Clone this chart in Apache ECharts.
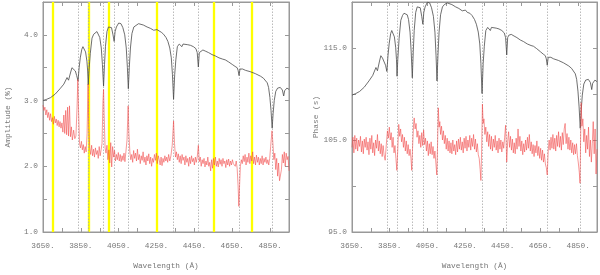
<!DOCTYPE html>
<html>
<head>
<meta charset="utf-8">
<script src="https://cdn.jsdelivr.net/npm/echarts@6/dist/echarts.min.js"></script>
<style>html,body{margin:0;padding:0;background:#fff}#c{width:600px;height:275px}</style>
</head>
<body>
<div id="c"></div>
<script>
// ---- data ----
const specWave = [3650,3670,3690,3715,3740,3760,3777,3785,3795,3803,3812,3821,3828,3835,3841,3847,3855,3861,3867,3875,3882,3886,3889,3893,3900,3909,3918,3926,3935,3943,3950,3958,3964,3970,3975,3980,3988,3996,4003,4012,4020,4026,4031,4038,4050,4062,4072,4082,4090,4096,4101,4106,4112,4120,4130,4140,4155,4180,4200,4217,4235,4243,4252,4262,4275,4287,4300,4310,4320,4328,4334,4340,4346,4352,4360,4370,4378,4384,4390,4400,4415,4430,4445,4458,4465,4471,4476,4482,4495,4510,4525,4543,4560,4580,4600,4613,4630,4650,4665,4676,4681,4686,4691,4698,4705,4710,4720,4745,4772,4800,4815,4824,4835,4842,4849,4855,4861,4866,4872,4880,4890,4904,4915,4922,4927,4939,4950];
const specAmp = [3.00,3.02,3.045,3.10,3.18,3.25,3.35,3.31,3.42,3.50,3.47,3.45,3.38,3.30,3.50,3.65,3.78,3.82,3.80,3.74,3.60,3.45,3.24,3.45,3.72,3.95,4.01,4.04,4.05,4.02,3.96,3.80,3.55,3.22,3.55,3.82,4.05,4.12,4.14,4.11,4.00,3.90,4.05,4.12,4.18,4.17,4.11,4.00,3.80,3.50,3.18,3.50,3.80,4.02,4.12,4.15,4.17,4.15,4.12,4.10,4.07,4.06,4.08,4.05,4.04,4.01,3.96,3.90,3.80,3.65,3.40,3.02,3.40,3.62,3.82,3.86,3.87,3.82,3.86,3.87,3.85,3.84,3.82,3.79,3.73,3.51,3.73,3.76,3.77,3.75,3.73,3.70,3.68,3.65,3.63,3.62,3.59,3.55,3.52,3.50,3.46,3.38,3.48,3.50,3.48,3.49,3.46,3.44,3.41,3.37,3.34,3.32,3.27,3.20,3.05,2.85,2.58,2.80,3.00,3.14,3.19,3.20,3.16,3.07,3.15,3.19,3.17];
const specPhase = [109.88,110.05,110.27,110.74,111.42,112.02,112.88,112.53,113.48,114.16,113.90,113.73,113.13,112.45,114.16,115.44,116.56,116.90,116.73,116.21,115.02,113.73,111.93,113.73,116.04,118.01,118.53,118.78,118.87,118.61,118.10,116.73,114.59,111.76,114.59,116.90,118.87,119.47,119.64,119.38,118.44,117.58,118.87,119.47,119.98,119.90,119.38,118.44,116.73,114.16,111.42,114.16,116.73,118.61,119.47,119.72,119.90,119.72,119.47,119.30,119.04,118.95,119.12,118.87,118.78,118.53,118.10,117.58,116.73,115.44,113.30,110.05,113.30,115.19,116.90,117.24,117.33,116.90,117.24,117.33,117.16,117.07,116.90,116.64,116.13,114.25,116.13,116.39,116.48,116.30,116.13,115.87,115.70,115.44,115.27,115.19,114.93,114.59,114.33,114.16,113.82,113.13,113.99,114.16,113.99,114.07,113.82,113.65,113.39,113.05,112.79,112.62,112.19,111.59,110.31,108.60,106.28,108.17,109.88,111.08,111.51,111.59,111.25,110.48,111.16,111.51,111.34];

const amplitude = [[3650,2.93],[3655,2.85],[3660,2.90],[3665,2.78],[3670,2.86],[3675,2.74],[3680,2.82],[3685,2.70],[3690,2.80],[3695,2.68],[3700,2.74],[3705,2.64],[3710,2.76],[3715,2.66],[3720,2.72],[3725,2.62],[3730,2.70],[3735,2.60],[3740,2.68],[3745,2.58],[3750,2.66],[3755,2.52],[3760,2.78],[3765,2.50],[3770,2.85],[3775,2.48],[3780,2.90],[3785,2.46],[3790,2.92],[3795,2.45],[3800,2.60],[3805,2.40],[3812,2.55],[3818,2.42],[3824,2.46],[3830,2.90],[3834,3.32],[3838,2.85],[3843,2.35],[3848,2.28],[3853,2.38],[3858,2.25],[3863,2.33],[3868,2.20],[3873,2.30],[3878,2.22],[3883,2.50],[3888,3.25],[3892,2.60],[3897,2.28],[3902,2.18],[3907,2.32],[3912,2.16],[3917,2.26],[3922,2.14],[3927,2.28],[3932,2.18],[3937,2.24],[3942,2.12],[3947,2.30],[3952,2.16],[3957,2.25],[3962,2.35],[3967,3.00],[3970,3.17],[3973,2.80],[3978,2.28],[3983,2.20],[3988,2.32],[3993,2.10],[3998,2.25],[4003,2.05],[4008,2.36],[4013,1.99],[4018,2.30],[4023,2.14],[4028,2.24],[4033,2.08],[4038,2.18],[4043,2.10],[4048,2.21],[4053,2.08],[4058,2.18],[4063,2.07],[4068,2.16],[4073,2.09],[4078,2.20],[4083,2.07],[4088,2.22],[4094,2.40],[4100,2.92],[4104,2.50],[4109,2.22],[4114,2.10],[4119,2.18],[4124,2.06],[4129,2.24],[4134,2.12],[4139,2.20],[4144,2.08],[4149,2.26],[4154,2.10],[4159,2.18],[4164,2.04],[4169,2.16],[4174,2.09],[4179,2.22],[4184,2.06],[4189,2.14],[4194,2.02],[4199,2.16],[4204,2.08],[4209,2.19],[4214,2.04],[4219,2.14],[4224,2.00],[4229,2.12],[4234,2.06],[4239,2.18],[4244,2.09],[4249,2.20],[4254,2.04],[4259,2.16],[4264,2.10],[4269,2.02],[4274,2.14],[4279,2.01],[4284,2.12],[4289,2.06],[4294,2.16],[4299,2.08],[4304,2.14],[4309,2.06],[4314,2.18],[4320,2.08],[4326,2.16],[4333,2.32],[4340,2.69],[4345,2.35],[4350,2.14],[4355,2.22],[4360,2.10],[4365,2.19],[4370,2.06],[4375,2.16],[4380,2.04],[4385,2.18],[4390,2.09],[4395,2.14],[4400,2.02],[4405,2.16],[4410,2.06],[4415,2.12],[4420,2.00],[4425,2.14],[4430,2.04],[4435,2.16],[4440,2.07],[4445,2.12],[4450,2.02],[4455,2.14],[4460,2.06],[4465,2.14],[4471,2.32],[4476,2.07],[4481,2.14],[4486,2.00],[4491,2.10],[4496,2.04],[4501,2.12],[4506,1.99],[4511,2.08],[4516,2.02],[4521,2.14],[4526,2.00],[4531,2.06],[4536,1.93],[4541,2.10],[4546,1.97],[4551,2.12],[4556,2.02],[4561,2.14],[4566,2.00],[4571,2.08],[4576,1.99],[4581,2.12],[4586,2.03],[4591,2.10],[4596,2.00],[4601,2.12],[4606,2.04],[4611,2.08],[4616,1.98],[4621,2.10],[4626,2.02],[4631,2.11],[4636,2.00],[4641,2.08],[4646,2.02],[4651,2.10],[4656,2.04],[4661,2.07],[4666,2.00],[4671,2.08],[4676,1.97],[4681,1.70],[4685,1.39],[4689,1.72],[4693,2.00],[4698,2.10],[4703,2.04],[4708,2.16],[4713,2.07],[4718,2.18],[4723,2.02],[4728,2.14],[4733,2.06],[4738,2.20],[4743,2.04],[4748,2.16],[4753,2.08],[4758,2.22],[4763,2.04],[4768,2.14],[4773,2.02],[4778,2.17],[4783,2.06],[4788,2.14],[4793,2.02],[4798,2.12],[4803,2.04],[4808,2.16],[4813,2.02],[4818,2.12],[4823,2.06],[4828,2.14],[4833,2.04],[4838,2.10],[4843,2.02],[4848,2.12],[4853,2.30],[4860,2.54],[4865,2.35],[4870,2.10],[4875,2.20],[4880,1.95],[4885,2.12],[4890,1.85],[4895,2.05],[4900,1.78],[4905,1.75],[4910,1.95],[4915,2.18],[4920,2.05],[4925,2.22],[4930,2.00],[4935,2.20],[4940,2.10],[4945,2.15],[4950,1.93]];

const phase = [[3650,104.2],[3655,105.3],[3660,103.6],[3665,105.5],[3670,104.0],[3675,105.2],[3680,103.8],[3685,105.0],[3690,104.3],[3695,105.4],[3700,103.7],[3705,104.9],[3710,103.5],[3715,105.1],[3720,104.2],[3725,105.3],[3730,103.9],[3735,104.8],[3740,103.4],[3745,105.2],[3750,104.0],[3755,105.5],[3760,103.6],[3765,104.7],[3770,103.3],[3775,105.0],[3780,104.1],[3785,105.6],[3790,103.8],[3795,104.9],[3800,103.5],[3805,104.6],[3810,103.2],[3815,104.4],[3820,103.4],[3826,102.8],[3832,104.5],[3838,106.0],[3843,105.2],[3848,106.4],[3853,105.0],[3858,105.8],[3863,104.2],[3868,105.3],[3873,103.6],[3878,104.4],[3883,103.0],[3888,101.7],[3893,104.0],[3898,106.7],[3903,105.4],[3908,106.2],[3913,104.8],[3918,105.6],[3923,104.2],[3928,105.3],[3933,103.8],[3938,104.9],[3943,103.5],[3948,104.5],[3953,103.3],[3958,104.0],[3963,103.0],[3967,101.7],[3972,104.5],[3977,106.8],[3980,107.4],[3985,106.2],[3990,106.8],[3995,105.3],[4000,106.0],[4005,104.6],[4010,105.5],[4015,104.2],[4020,105.8],[4025,104.4],[4030,106.1],[4035,104.5],[4040,105.2],[4045,103.8],[4050,104.9],[4055,103.3],[4060,104.6],[4065,103.5],[4070,104.8],[4075,103.4],[4080,104.3],[4085,103.0],[4090,103.8],[4095,102.5],[4100,101.2],[4104,104.5],[4108,108.5],[4112,106.4],[4116,107.0],[4120,105.6],[4125,106.5],[4130,105.0],[4135,106.0],[4140,104.6],[4145,105.5],[4150,104.0],[4155,105.2],[4160,103.8],[4165,104.9],[4170,103.6],[4175,104.7],[4180,103.5],[4185,105.0],[4190,103.8],[4195,104.5],[4200,103.4],[4205,104.9],[4210,103.7],[4215,105.1],[4220,104.0],[4225,105.3],[4230,103.9],[4235,104.8],[4240,103.6],[4245,105.2],[4250,104.1],[4255,105.4],[4260,103.8],[4265,105.0],[4270,104.2],[4275,105.5],[4280,103.9],[4285,105.2],[4290,104.3],[4295,105.6],[4300,104.0],[4305,105.1],[4310,103.7],[4315,104.6],[4320,103.4],[4325,103.0],[4330,101.8],[4334,100.6],[4338,104.0],[4342,108.9],[4346,106.8],[4350,107.3],[4355,105.6],[4360,106.4],[4365,104.8],[4370,105.9],[4375,104.3],[4380,105.6],[4385,104.0],[4390,105.4],[4395,103.8],[4400,105.1],[4405,104.2],[4410,105.5],[4415,103.9],[4420,104.9],[4425,103.6],[4430,105.2],[4435,104.0],[4440,105.0],[4445,103.7],[4450,104.8],[4455,104.1],[4460,105.3],[4465,106.6],[4471,102.6],[4476,104.8],[4481,105.9],[4486,104.2],[4491,105.4],[4496,103.9],[4501,105.1],[4506,103.6],[4511,104.7],[4516,103.5],[4521,105.2],[4526,104.0],[4531,106.2],[4536,104.3],[4541,105.4],[4546,103.8],[4551,104.9],[4556,103.4],[4561,104.6],[4566,103.7],[4571,105.0],[4576,103.9],[4581,105.3],[4586,104.1],[4591,105.6],[4596,103.8],[4601,104.8],[4606,103.5],[4611,104.5],[4616,103.2],[4621,104.4],[4626,103.6],[4631,104.9],[4636,103.3],[4641,104.3],[4646,103.0],[4651,104.1],[4656,102.8],[4661,103.9],[4666,102.6],[4671,103.5],[4676,102.4],[4681,102.0],[4686,101.2],[4691,103.8],[4696,105.0],[4701,103.9],[4706,105.3],[4711,104.1],[4716,105.6],[4721,104.0],[4726,105.2],[4731,103.8],[4736,105.5],[4741,104.3],[4746,105.9],[4751,104.2],[4756,105.4],[4761,103.9],[4766,105.8],[4771,104.5],[4776,106.2],[4781,106.8],[4786,104.6],[4791,105.7],[4796,104.0],[4801,105.3],[4806,103.9],[4811,105.0],[4816,103.6],[4821,104.7],[4826,103.4],[4831,104.5],[4836,103.5],[4841,104.6],[4846,103.3],[4851,102.5],[4856,101.5],[4860,100.3],[4863,105.0],[4866,109.05],[4870,106.5],[4875,107.3],[4880,104.8],[4885,106.2],[4890,103.6],[4895,105.5],[4900,104.0],[4905,106.4],[4910,103.2],[4915,105.0],[4920,102.6],[4925,104.6],[4930,107.0],[4935,103.5],[4940,106.2],[4945,101.3],[4950,104.0]];

const lineWaves = [3835,3889,3970,4026,4101,4340,4471,4686,4861];
const yellowWaves = [3701,3891,4000,4252,4551,4754];
const ampTicks = [1.0,2.0,3.0,4.0];
const phaseTicks = [95,105,115];
const waveTicks = [3650,3850,4050,4250,4450,4650,4850];

// ---- chart ----
const FONT = 'Liberation Mono';
const TXT = '#777';
const AX = '#999';
const chart = echarts.init(document.getElementById('c'), null, {renderer:'canvas'});

function xAx(grid, pos){
  return {
    type:'value', gridIndex:grid, position:pos, min:3650, max:4950, interval:100,
    axisLine:{show:true, onZero:false, lineStyle:{color:AX, width:1}},
    axisTick:{show:true, inside:true, length:4, lineStyle:{color:AX}},
    splitLine:{show:false},
    axisLabel:{show:pos==='bottom', margin:10, color:TXT, fontFamily:FONT, fontSize:7.8,
      formatter:v=>waveTicks.indexOf(v)>=0 ? v+'.' : ''},
    name: pos==='bottom' ? 'Wavelength (Å)' : '',
    nameLocation:'middle', nameGap:30,
    nameTextStyle:{color:TXT, fontFamily:FONT, fontSize:7.8}
  };
}
function yAx(grid, pos, min, max, interval, ticks, name){
  return {
    type:'value', gridIndex:grid, position:pos, min:min, max:max, interval:interval,
    axisLine:{show:true, onZero:false, lineStyle:{color:AX, width:1}},
    axisTick:{show:true, inside:true, length:4, lineStyle:{color:AX}},
    splitLine:{show:false},
    axisLabel:{show:pos==='left', margin:5, color:TXT, fontFamily:FONT, fontSize:7.8,
      formatter:v=>ticks.indexOf(v)>=0 ? v.toFixed(1) : ''},
    name: pos==='left' ? name : '',
    nameLocation:'middle', nameGap:31, nameRotate:90,
    nameTextStyle:{color:TXT, fontFamily:FONT, fontSize:7.8}
  };
}
function vlines(waves, style, z){
  return {silent:true, symbol:['none','none'], z:z, animation:false,
    label:{show:false}, lineStyle:style, data:waves.map(w=>({xAxis:w}))};
}
const dotted = {color:'#aaa', width:0.8, type:[1.5,1.5]};

chart.setOption({
  animation:false,
  backgroundColor:'#fff',
  grid:[
    {left:43, top:2, width:246, bottom:41, show:true, borderColor:AX, borderWidth:1},
    {left:352, top:2, width:246, bottom:41, show:true, borderColor:AX, borderWidth:1}
  ],
  xAxis:[xAx(0,'bottom'), xAx(0,'top'), xAx(1,'bottom'), xAx(1,'top')],
  yAxis:[
    yAx(0,'left',1,4.5,0.5,ampTicks,'Amplitude (%)'),
    yAx(0,'right',1,4.5,0.5,ampTicks,''),
    yAx(1,'left',95,120,5,phaseTicks,'Phase (s)'),
    yAx(1,'right',95,120,5,phaseTicks,'')
  ],
  series:[
    {type:'line', xAxisIndex:0, yAxisIndex:0, z:3, symbol:'none', silent:true,
     data:specWave.map((w,i)=>[w,specAmp[i]]),
     lineStyle:{color:'#4a4a4a', width:0.8},
     markLine:vlines(yellowWaves,{color:'#ffff00', width:2.3, type:'solid'},1)},
    {type:'line', xAxisIndex:0, yAxisIndex:0, z:4, symbol:'none', silent:true,
     data:amplitude,
     lineStyle:{color:'rgba(240,70,70,0.7)', width:0.8},
     markLine:vlines(lineWaves,dotted,1)},
    {type:'line', xAxisIndex:2, yAxisIndex:2, z:3, symbol:'none', silent:true,
     data:specWave.map((w,i)=>[w,specPhase[i]]),
     lineStyle:{color:'#4a4a4a', width:0.8},
     markLine:vlines(lineWaves,dotted,1)},
    {type:'line', xAxisIndex:2, yAxisIndex:2, z:4, symbol:'none', silent:true,
     data:phase,
     lineStyle:{color:'rgba(240,70,70,0.7)', width:0.8}}
  ]
});
</script>
</body>
</html>
